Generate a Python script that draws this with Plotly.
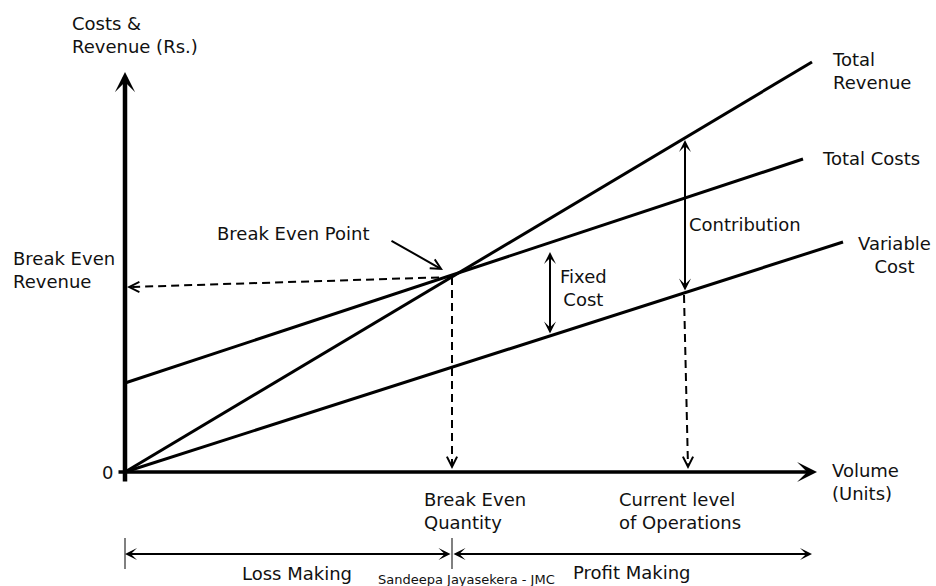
import plotly.graph_objects as go

# ---- data (volume units on x, Rs. on y) ----
tr_volume = [0, 687]
tr_value = [0, 410]
tc_volume = [0, 678]
tc_value = [89, 313]
vc_volume = [0, 718]
vc_value = [0, 230]

be_quantity = 327
be_revenue = 195
current_level = 560
contribution_top = 332
contribution_bottom = 180
fixed_cost_volume = 425
fixed_cost_top = 220
fixed_cost_bottom = 137
x_axis_end = 692
y_axis_top = 400
range_end = 687

FONT = "DejaVu Sans"
BLACK = "#000000"

fig = go.Figure()

# main lines
for xs, ys in [(tr_volume, tr_value), (tc_volume, tc_value), (vc_volume, vc_value)]:
    fig.add_trace(go.Scatter(x=xs, y=ys, mode="lines",
                             line=dict(color=BLACK, width=3), hoverinfo="skip"))

# dashed guide lines
dash = "8px,5px"
fig.add_trace(go.Scatter(x=[be_quantity, 5], y=[be_revenue, be_revenue - 10], mode="lines",
                         line=dict(color=BLACK, width=2, dash=dash), hoverinfo="skip"))
fig.add_trace(go.Scatter(x=[be_quantity, be_quantity], y=[be_revenue, 5], mode="lines",
                         line=dict(color=BLACK, width=2, dash=dash), hoverinfo="skip"))
fig.add_trace(go.Scatter(x=[current_level - 1, current_level + 3], y=[contribution_bottom - 3, 5], mode="lines",
                         line=dict(color=BLACK, width=2, dash=dash), hoverinfo="skip"))

# gray ticks at bottom range
for xv in [0, be_quantity]:
    fig.add_trace(go.Scatter(x=[xv, xv], y=[-66, -97], mode="lines",
                             line=dict(color="#808080", width=2), hoverinfo="skip"))

ann = []

def arrow(x, y, ax, ay, width, head, size, both=False, color=BLACK):
    d = dict(x=x, y=y, ax=ax, ay=ay, xref="x", yref="y", axref="x", ayref="y",
             text="", showarrow=True, arrowcolor=color, arrowwidth=width,
             arrowhead=head, arrowsize=size, standoff=0, startstandoff=0)
    if both:
        d.update(arrowside="end+start", startarrowhead=head, startarrowsize=size)
    ann.append(d)

# axes
arrow(0, y_axis_top, 0, -11, 4.5, 3, 0.75)
arrow(x_axis_end, 0, -8, 0, 3.5, 3, 0.95)

# arrow heads for dashed lines
arrow(2, be_revenue - 10, 8, be_revenue - 10, 2, 5, 1)
arrow(be_quantity, 3, be_quantity, 10, 2, 5, 1)
arrow(current_level + 3, 3, current_level + 3, 10, 2, 5, 1)

# break even point pointer
arrow(318, 202, 265, 232, 2, 5, 1)

# double arrows
arrow(fixed_cost_volume, fixed_cost_top, fixed_cost_volume, fixed_cost_bottom, 2, 3, 1, both=True)
arrow(current_level, contribution_top, current_level, contribution_bottom, 2, 3, 1, both=True)
arrow(0, -82, be_quantity, -82, 2, 3, 1, both=True)
arrow(range_end, -82, be_quantity, -82, 2, 3, 1, both=True)

def label(x, y, text, xanchor="left", align="left", size=18):
    ann.append(dict(x=x, y=y, xref="x", yref="y", text=text, showarrow=False,
                    xanchor=xanchor, yanchor="middle", align=align,
                    font=dict(family=FONT, size=size, color="#111111")))

label(-55, 437.5, "Costs &<br>Revenue (Rs.)")
label(-114, 202, "Break Even<br>Revenue")
label(-18, 0, "0", xanchor="center", align="center")
label(90, 239, "Break Even Point")
label(458, 184.5, "Fixed<br>Cost", xanchor="center", align="center")
label(562, 248, "Contribution")
label(705, 401.5, "Total<br>Revenue")
label(695, 314, "Total Costs")
label(769, 217, "Variable<br>Cost", xanchor="center", align="center")
label(705, -9.5, "Volume<br>(Units)")
label(297, -38.5, "Break Even<br>Quantity")
label(492, -38.5, "Current level<br>of Operations")
label(172, -101, "Loss Making", xanchor="center", align="center")
label(507, -100, "Profit Making", xanchor="center", align="center")
label(341, -107, "Sandeepa Jayasekera - JMC", xanchor="center", align="center", size=13)

fig.update_layout(
    width=936, height=586,
    margin=dict(l=0, r=0, t=0, b=0),
    paper_bgcolor="white", plot_bgcolor="white",
    showlegend=False,
    xaxis=dict(range=[-125, 811], visible=False, fixedrange=True),
    yaxis=dict(range=[-114, 472], visible=False, fixedrange=True),
    annotations=ann,
)

fig.write_html("out.html", config={"displayModeBar": False},
               post_script="document.body.style.margin='0';document.body.style.overflow='hidden';")
